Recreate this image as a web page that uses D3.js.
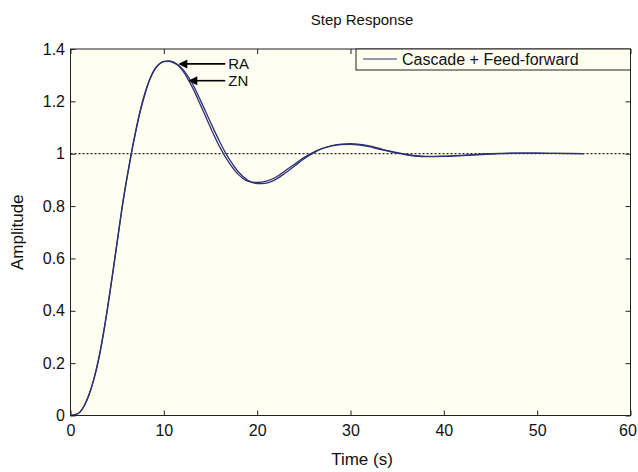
<!DOCTYPE html>
<html>
<head>
<meta charset="utf-8">
<script src="https://cdn.jsdelivr.net/npm/d3@7"></script>
<style>
  body{margin:0;background:#fff}
  svg{display:block}
  text{font-family:"Liberation Sans",Arial,Helvetica,sans-serif;fill:#111}
</style>
</head>
<body>
<script>
// step response data
let time = [0,0.5,1,1.5,2,2.5,3,3.5,4,4.5,5,5.5,6,6.5,7,7.5,8,8.5,9,9.5,10,10.5,11,11.5,12,12.5,13,14,15,16,17,18,19,20,21,22,23,24,25,26,27,28,29,30,31,32,33,34,35,36,38,40,42,44,46,48,50,52,55]
let ra = [0,0.003,0.013,0.04,0.082,0.14,0.215,0.31,0.42,0.54,0.665,0.79,0.9,1.0,1.09,1.17,1.235,1.285,1.322,1.343,1.352,1.353,1.348,1.338,1.318,1.29,1.258,1.18,1.1,1.025,0.965,0.92,0.895,0.89,0.895,0.91,0.935,0.96,0.985,1.005,1.02,1.03,1.035,1.036,1.033,1.027,1.018,1.01,1.002,0.996,0.99,0.991,0.994,0.998,1.001,1.002,1.002,1.001,1.0]
let zn = [0,0.003,0.012,0.038,0.08,0.137,0.21,0.305,0.415,0.535,0.66,0.785,0.895,0.995,1.085,1.165,1.23,1.283,1.32,1.342,1.353,1.355,1.351,1.34,1.324,1.3,1.272,1.198,1.12,1.045,0.98,0.93,0.898,0.886,0.888,0.902,0.926,0.953,0.98,1.002,1.02,1.031,1.037,1.038,1.036,1.03,1.021,1.012,1.004,0.997,0.989,0.99,0.993,0.997,1.0,1.002,1.002,1.001,1.0]
let xTicks = [0,10,20,30,40,50,60]
let yTicks = [0,0.2,0.4,0.6,0.8,1,1.2,1.4]
let yTickLabels = ["0","0.2","0.4","0.6","0.8","1","1.2","1.4"]
let notes = [{label:"RA",t:11.55,v:1.343,tx:16.9},{label:"ZN",t:12.62,v:1.279,tx:16.9}]
let legendLabel = "Cascade + Feed-forward"

let width = 638, height = 472
let margin = {left:70.5,right:7.5,top:49,bottom:56.5}
let lineColor = "#2c3273"

let svg = d3.select("body").append("svg").attr("width",width).attr("height",height)

let x = d3.scaleLinear().domain([0,60]).range([margin.left,width-margin.right])
let y = d3.scaleLinear().domain([0,1.4]).range([height-margin.bottom,margin.top])

svg.append("rect")
  .attr("x",x(0)).attr("y",y(1.4))
  .attr("width",x(60)-x(0)).attr("height",y(0)-y(1.4))
  .attr("fill","#fffff1")

// steady state line
svg.append("line")
  .attr("x1",x(0)).attr("x2",x(60))
  .attr("y1",y(1)).attr("y2",y(1))
  .attr("stroke","#222").attr("stroke-width",1.2).attr("stroke-dasharray","2,2")

let line = d3.line().x(d=>x(d[0])).y(d=>y(d[1])).curve(d3.curveMonotoneX)
;[ra,zn].forEach(vals=>{
  svg.append("path")
    .datum(time.map((t,i)=>[t,vals[i]]))
    .attr("d",line)
    .attr("fill","none")
    .attr("stroke",lineColor)
    .attr("stroke-width",1.3)
})

// axes, ticks pointing inwards on all four sides
let xAxis = svg.append("g").attr("transform",`translate(0,${y(0)})`)
  .call(d3.axisBottom(x).tickValues(xTicks).tickSize(-5).tickPadding(9).tickFormat(d3.format("d")))
let xTop = svg.append("g").attr("transform",`translate(0,${y(1.4)})`)
  .call(d3.axisTop(x).tickValues(xTicks).tickSize(-5).tickFormat(""))
let yAxis = svg.append("g").attr("transform",`translate(${x(0)},0)`)
  .call(d3.axisLeft(y).tickValues(yTicks).tickSize(-5).tickPadding(5.5).tickFormat((d,i)=>yTickLabels[i]))
let yRight = svg.append("g").attr("transform",`translate(${x(60)},0)`)
  .call(d3.axisRight(y).tickValues(yTicks).tickSize(-5).tickFormat(""))

svg.selectAll(".domain").remove()
svg.selectAll(".tick line").attr("stroke","#222")
svg.selectAll(".tick text").style("font-size","16px").attr("fill","#111")
// last label sits right at the page edge, nudge it in
xAxis.selectAll(".tick text").filter(d=>d===60).attr("dx",-3)

svg.append("rect")
  .attr("x",x(0)).attr("y",y(1.4))
  .attr("width",x(60)-x(0)).attr("height",y(0)-y(1.4))
  .attr("fill","none").attr("stroke","#222").attr("stroke-width",1)

// legend
let lg = svg.append("g")
lg.append("rect")
  .attr("x",356).attr("y",y(1.4))
  .attr("width",x(60)-356).attr("height",21)
  .attr("fill","#fffff1").attr("stroke","#222").attr("stroke-width",1)
lg.append("line")
  .attr("x1",363).attr("x2",397).attr("y1",y(1.4)+10).attr("y2",y(1.4)+10)
  .attr("stroke",lineColor).attr("stroke-width",1.2)
lg.append("text")
  .attr("x",402).attr("y",y(1.4)+16)
  .style("font-size","16px")
  .text(legendLabel)

// annotation arrows
notes.forEach(n=>{
  let tipX = x(n.t), tipY = y(n.v)
  svg.append("line")
    .attr("x1",tipX+8).attr("x2",x(n.tx)-3)
    .attr("y1",tipY).attr("y2",tipY)
    .attr("stroke","#000").attr("stroke-width",1.6)
  svg.append("polygon")
    .attr("points",`${tipX},${tipY} ${tipX+9},${tipY-4.5} ${tipX+9},${tipY+4.5}`)
    .attr("fill","#000")
  svg.append("text")
    .attr("x",x(n.tx)).attr("y",tipY+5.5)
    .style("font-size","15px")
    .text(n.label)
})

svg.append("text")
  .attr("x",362).attr("y",25)
  .attr("text-anchor","middle")
  .style("font-size","15px")
  .text("Step Response")

svg.append("text")
  .attr("x",362).attr("y",465)
  .attr("text-anchor","middle")
  .style("font-size","17px")
  .text("Time (s)")

svg.append("text")
  .attr("transform",`translate(23,${(y(0)+y(1.4))/2}) rotate(-90)`)
  .attr("text-anchor","middle")
  .style("font-size","17px")
  .text("Amplitude")
</script>
</body>
</html>
